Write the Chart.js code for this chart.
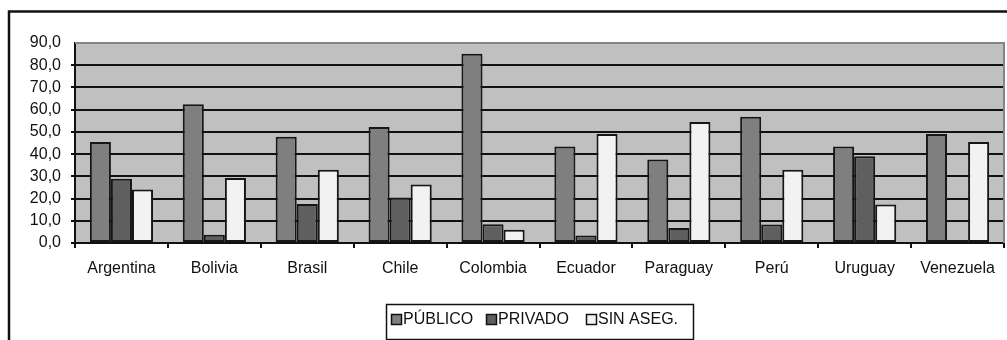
<!DOCTYPE html>
<html>
<head>
<meta charset="utf-8">
<script src="https://cdn.jsdelivr.net/npm/chart.js@4/dist/chart.umd.min.js"></script>
<style>
  html, body { margin: 0; padding: 0; background: #ffffff; }
  #wrap { width: 1007px; height: 340px; }
</style>
</head>
<body>
<div id="wrap"><canvas id="chart" width="1007" height="340"></canvas></div>
<script>
// Countries on the category axis
const categories = ["Argentina", "Bolivia", "Brasil", "Chile", "Colombia", "Ecuador", "Paraguay", "Perú", "Uruguay", "Venezuela"];

// Share of population by type of health coverage (%)
const publico  = [45.4, 62.4, 47.8, 52.2, 85.2, 43.4, 37.6, 56.8, 43.4, 49.0];
const privado  = [28.9,  3.7, 17.5, 20.5,  8.4,  3.4,  6.8,  8.3, 39.0,  1.4];
const sinAseg  = [24.1, 29.3, 33.0, 26.3,  6.0, 49.0, 54.4, 33.0, 17.3, 45.5];

const seriesNames = ["PÚBLICO", "PRIVADO", "SIN ASEG."];

const FONT = "'Liberation Sans', Arial, sans-serif";

// Grey plot background, plot frame, outer frame and the boxed legend
const framePlugin = {
  id: 'frame',
  beforeDraw(chart) {
    const { ctx, chartArea: a } = chart;
    ctx.save();
    ctx.fillStyle = '#c0c0c0';
    ctx.fillRect(a.left, a.top, a.right - a.left, a.bottom - a.top);
    ctx.restore();
  },
  afterDraw(chart) {
    const { ctx, chartArea: a } = chart;
    ctx.save();
    // grey top/right edges of the plot area
    ctx.strokeStyle = '#858585';
    ctx.lineWidth = 2;
    ctx.beginPath();
    ctx.moveTo(a.left, a.top);
    ctx.lineTo(a.right, a.top);
    ctx.lineTo(a.right, a.bottom);
    ctx.stroke();

    // outer chart border (runs off the right and bottom edges)
    ctx.strokeStyle = '#111';
    ctx.lineWidth = 2.5;
    ctx.strokeRect(9, 11.5, 1010, 340);

    // legend
    const lx = 386.5, ly = 304.5, lw = 307, lh = 35;
    ctx.lineWidth = 1.5;
    ctx.strokeStyle = '#111';
    ctx.fillStyle = '#fff';
    ctx.fillRect(lx, ly, lw, lh);
    ctx.strokeRect(lx, ly, lw, lh);

    const swatchX = [391, 486, 586];
    ctx.font = '16px ' + FONT;
    ctx.textBaseline = 'middle';
    chart.data.datasets.forEach((ds, i) => {
      const sx = swatchX[i], sy = 314;
      ctx.fillStyle = ds.backgroundColor;
      ctx.fillRect(sx, sy, 11, 11);
      ctx.lineWidth = 1.5;
      ctx.strokeStyle = '#111';
      ctx.strokeRect(sx + 0.5, sy + 0.5, 10, 10);
      ctx.fillStyle = '#111';
      ctx.fillText(ds.label, sx + 12, sy + 6);
    });
    ctx.restore();
  }
};

const barStyle = { borderColor: '#161616', borderWidth: 2, borderSkipped: false };

new Chart(document.getElementById('chart'), {
  type: 'bar',
  data: {
    labels: categories,
    datasets: [
      { label: seriesNames[0], data: publico, backgroundColor: '#7f7f7f', ...barStyle },
      { label: seriesNames[1], data: privado, backgroundColor: '#5f5f5f', ...barStyle },
      { label: seriesNames[2], data: sinAseg, backgroundColor: '#f2f2f2', ...barStyle }
    ]
  },
  options: {
    responsive: false,
    animation: false,
    devicePixelRatio: 1,
    layout: { padding: { left: 0, top: 43, right: 3, bottom: 0 } },
    plugins: {
      legend: { display: false },
      tooltip: { enabled: false },
      title: { display: false }
    },
    datasets: { bar: { barPercentage: 1.0, categoryPercentage: 0.68 } },
    scales: {
      x: {
        afterFit(scale) { scale.height = 97; },
        border: { display: true, color: '#111', width: 2 },
        grid: {
          display: true, drawOnChartArea: false, drawTicks: true,
          tickLength: 5, color: '#111', lineWidth: 2, offset: true
        },
        ticks: {
          color: '#111', font: { family: FONT, size: 16 },
          padding: 11, maxRotation: 0, autoSkip: false
        }
      },
      y: {
        min: 0, max: 90,
        afterFit(scale) { scale.width = 75; },
        border: { display: true, color: '#111', width: 2 },
        grid: {
          color: (c) => (c.tick && c.tick.value === 90 ? 'rgba(0,0,0,0)' : '#111'),
          lineWidth: 2, tickLength: 4, drawTicks: true
        },
        ticks: {
          stepSize: 10, color: '#111', padding: 10,
          font: { family: FONT, size: 16 },
          callback: (v) => v.toFixed(1).replace('.', ',')
        }
      }
    }
  },
  plugins: [framePlugin]
});
</script>
</body>
</html>
